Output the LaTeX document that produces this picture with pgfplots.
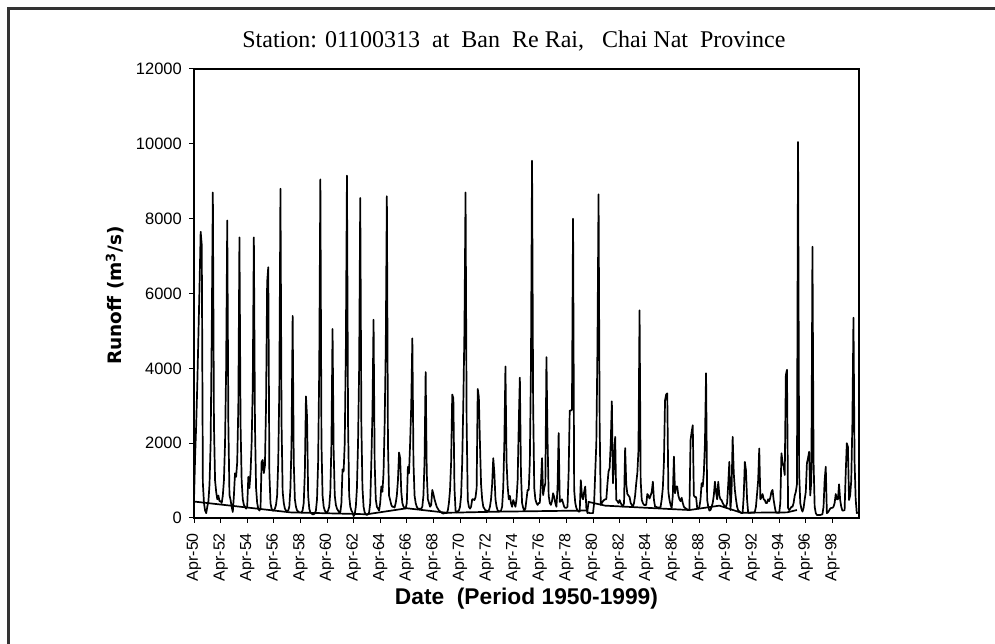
\documentclass[border=0pt]{standalone}
\usepackage{pgfplots}
\pgfplotsset{compat=1.18}
\usepackage{fontspec}
\setmainfont{Liberation Sans}
\newfontfamily\titlefont{Liberation Serif}
\newfontfamily\labfont{DejaVu Sans}
\begin{document}
\begin{tikzpicture}
\useasboundingbox (0,0) rectangle (995bp,644bp);
\draw[line width=2.5bp, black!80] (8.5bp,0) -- (8.5bp,635.5bp) -- (995bp,635.5bp);
\begin{axis}[
  at={(194bp,126bp)}, anchor=south west,
  scale only axis, width=665bp, height=449bp,
  xmin=0, xmax=600, ymin=0, ymax=12000,
  xtick={0,24,...,576},
  xticklabels={Apr-50,Apr-52,Apr-54,Apr-56,Apr-58,Apr-60,Apr-62,Apr-64,Apr-66,Apr-68,Apr-70,Apr-72,Apr-74,Apr-76,Apr-78,Apr-80,Apr-82,Apr-84,Apr-86,Apr-88,Apr-90,Apr-92,Apr-94,Apr-96,Apr-98},
  ytick={0,2000,...,12000},
  tick align=outside, xtick pos=bottom, ytick pos=left,
  major tick length=5bp,
  axis line style={line width=1.5bp},
  every tick/.style={black, line width=1bp},
  tick label style={font=\fontsize{16.5bp}{18bp}\selectfont},
  xticklabel style={font=\fontsize{16bp}{18bp}\selectfont},
  /pgf/number format/assume math mode=true,
  scaled y ticks=false,
  yticklabel style={/pgf/number format/1000 sep={}, anchor=east, inner sep=0pt},
  xticklabel style={rotate=90, anchor=east, inner sep=0pt},
  xticklabel shift=10bp, yticklabel shift=7bp,
  title={Station: 01100313~~at~~Ban~~Re Rai,~~~Chai Nat~~Province},
  title style={at={(axis description cs:0.481,1.049)}, anchor=center, inner sep=0pt, font=\titlefont\fontsize{24bp}{28bp}\selectfont},
  xlabel={Date~~(Period 1950-1999)},
  xlabel style={at={(axis description cs:0.5,-0.18)}, anchor=center, inner sep=0pt, font=\fontsize{22.75bp}{26bp}\selectfont\bfseries},
  ylabel={Runoff (m\textsuperscript{3}/s)},
  ylabel style={at={(axis description cs:-0.119,0.4955)}, anchor=center, rotate=0, inner sep=0pt, font=\labfont\fontsize{18.5bp}{22bp}\selectfont\bfseries},
]
\addplot[black, line width=1.7bp, line join=round] table[x expr=\coordindex, y index=0, header=false, row sep=\\] {
480\\ 1640\\ 2500\\ 3600\\ 4900\\ 6200\\ 7650\\ 7300\\ 930\\ 400\\ 200\\ 130\\
300\\ 450\\ 900\\ 2000\\ 4900\\ 8700\\ 2500\\ 1007\\ 700\\ 500\\ 600\\ 450\\
450\\ 400\\ 600\\ 1000\\ 2000\\ 4000\\ 7950\\ 2500\\ 615\\ 480\\ 300\\ 160\\
600\\ 1194\\ 1100\\ 1500\\ 3000\\ 7500\\ 2500\\ 1000\\ 500\\ 350\\ 300\\ 250\\
300\\ 1100\\ 800\\ 1200\\ 2000\\ 3500\\ 7500\\ 2500\\ 800\\ 400\\ 250\\ 200\\
250\\ 1500\\ 1550\\ 1200\\ 1400\\ 3000\\ 6300\\ 6700\\ 1200\\ 400\\ 250\\ 200\\
200\\ 250\\ 350\\ 600\\ 1500\\ 3500\\ 8800\\ 2500\\ 700\\ 400\\ 250\\ 200\\
180\\ 200\\ 300\\ 800\\ 2000\\ 5400\\ 1500\\ 500\\ 300\\ 200\\ 170\\ 150\\
150\\ 150\\ 200\\ 400\\ 1200\\ 3250\\ 2700\\ 600\\ 250\\ 150\\ 120\\ 100\\
100\\ 120\\ 200\\ 500\\ 1500\\ 4000\\ 9050\\ 2000\\ 600\\ 300\\ 200\\ 150\\
150\\ 200\\ 300\\ 700\\ 2000\\ 5050\\ 1800\\ 600\\ 350\\ 250\\ 200\\ 150\\
150\\ 400\\ 1300\\ 1250\\ 2000\\ 4500\\ 9150\\ 2500\\ 600\\ 300\\ 200\\ 150\\
50\\ 100\\ 300\\ 800\\ 2000\\ 4000\\ 8550\\ 2500\\ 800\\ 300\\ 150\\ 100\\
80\\ 100\\ 150\\ 400\\ 1500\\ 2800\\ 5300\\ 1500\\ 500\\ 300\\ 250\\ 200\\
400\\ 840\\ 700\\ 1200\\ 2500\\ 4500\\ 8600\\ 2000\\ 600\\ 480\\ 350\\ 300\\
300\\ 280\\ 400\\ 600\\ 1000\\ 1750\\ 1600\\ 700\\ 400\\ 300\\ 280\\ 260\\
400\\ 1370\\ 1200\\ 2000\\ 3000\\ 4800\\ 1500\\ 600\\ 400\\ 300\\ 250\\ 250\\
250\\ 250\\ 300\\ 600\\ 1500\\ 3900\\ 1200\\ 500\\ 400\\ 300\\ 350\\ 750\\
640\\ 500\\ 400\\ 300\\ 250\\ 200\\ 180\\ 150\\ 130\\ 120\\ 130\\ 130\\
130\\ 200\\ 400\\ 750\\ 1500\\ 3300\\ 3200\\ 800\\ 200\\ 150\\ 180\\ 200\\
300\\ 600\\ 1500\\ 3100\\ 5000\\ 8700\\ 2500\\ 480\\ 300\\ 250\\ 300\\ 500\\
500\\ 480\\ 550\\ 800\\ 3450\\ 3230\\ 2000\\ 900\\ 500\\ 300\\ 250\\ 200\\
200\\ 180\\ 200\\ 300\\ 500\\ 900\\ 1600\\ 1200\\ 500\\ 300\\ 200\\ 180\\
180\\ 200\\ 300\\ 800\\ 2000\\ 4050\\ 1500\\ 840\\ 500\\ 590\\ 400\\ 300\\
480\\ 400\\ 300\\ 500\\ 1000\\ 2500\\ 3750\\ 1200\\ 400\\ 270\\ 200\\ 250\\
500\\ 750\\ 750\\ 1500\\ 4000\\ 9550\\ 3000\\ 800\\ 500\\ 400\\ 350\\ 400\\
400\\ 900\\ 1600\\ 610\\ 800\\ 930\\ 4300\\ 2080\\ 600\\ 400\\ 350\\ 450\\
660\\ 560\\ 400\\ 300\\ 800\\ 2270\\ 430\\ 450\\ 500\\ 400\\ 300\\ 270\\
270\\ 300\\ 1200\\ 2870\\ 2870\\ 2900\\ 8000\\ 750\\ 400\\ 270\\ 200\\ 170\\
170\\ 1010\\ 600\\ 500\\ 700\\ 840\\ 270\\ 130\\ 150\\ 130\\ 130\\ 130\\
130\\ 400\\ 1200\\ 2000\\ 4500\\ 8650\\ 2500\\ 350\\ 400\\ 450\\ 480\\ 500\\
500\\ 900\\ 1240\\ 1330\\ 2000\\ 3120\\ 930\\ 1500\\ 2170\\ 480\\ 450\\ 400\\
480\\ 400\\ 350\\ 300\\ 400\\ 1870\\ 900\\ 640\\ 600\\ 560\\ 400\\ 350\\
300\\ 400\\ 600\\ 930\\ 1200\\ 1800\\ 5550\\ 1000\\ 480\\ 400\\ 350\\ 350\\
350\\ 640\\ 600\\ 520\\ 600\\ 700\\ 970\\ 480\\ 300\\ 300\\ 280\\ 280\\
280\\ 300\\ 500\\ 800\\ 1500\\ 3150\\ 3300\\ 3330\\ 700\\ 480\\ 350\\ 270\\
600\\ 1640\\ 660\\ 840\\ 840\\ 600\\ 500\\ 450\\ 540\\ 400\\ 300\\ 270\\
250\\ 230\\ 220\\ 213\\ 2080\\ 2300\\ 2480\\ 600\\ 560\\ 560\\ 270\\ 250\\
300\\ 500\\ 930\\ 840\\ 1200\\ 2000\\ 3870\\ 480\\ 300\\ 200\\ 210\\ 300\\
400\\ 600\\ 970\\ 700\\ 500\\ 970\\ 600\\ 500\\ 480\\ 400\\ 350\\ 300\\
300\\ 400\\ 900\\ 1500\\ 210\\ 700\\ 2170\\ 1200\\ 750\\ 500\\ 300\\ 200\\
180\\ 150\\ 130\\ 130\\ 600\\ 1500\\ 1280\\ 500\\ 140\\ 140\\ 140\\ 150\\
150\\ 150\\ 160\\ 300\\ 640\\ 1000\\ 1860\\ 500\\ 550\\ 640\\ 500\\ 480\\
400\\ 400\\ 500\\ 450\\ 550\\ 700\\ 750\\ 480\\ 300\\ 150\\ 140\\ 140\\
140\\ 400\\ 1730\\ 1500\\ 1370\\ 1150\\ 3820\\ 3960\\ 270\\ 210\\ 250\\ 300\\
300\\ 400\\ 600\\ 700\\ 900\\ 10050\\ 1200\\ 400\\ 250\\ 170\\ 270\\ 500\\
700\\ 1460\\ 1600\\ 1770\\ 600\\ 1000\\ 7250\\ 1500\\ 300\\ 130\\ 80\\ 80\\
80\\ 80\\ 90\\ 100\\ 300\\ 1010\\ 1370\\ 130\\ 150\\ 200\\ 250\\ 270\\
270\\ 300\\ 400\\ 640\\ 500\\ 500\\ 900\\ 480\\ 300\\ 200\\ 200\\ 210\\
1200\\ 2000\\ 1900\\ 480\\ 600\\ 1000\\ 2500\\ 5350\\ 1500\\ 500\\ 130\\ 150\\
};
\addplot[black, line width=1.7bp] coordinates {
(0,440) (87,150) (156,100) (192,260) (228,140) (276,170) (355,200) (356,430)
(371,330) (447,213) (474,330) (494,140) (535,150) (544,213)
};
\end{axis}
\end{tikzpicture}
\end{document}
